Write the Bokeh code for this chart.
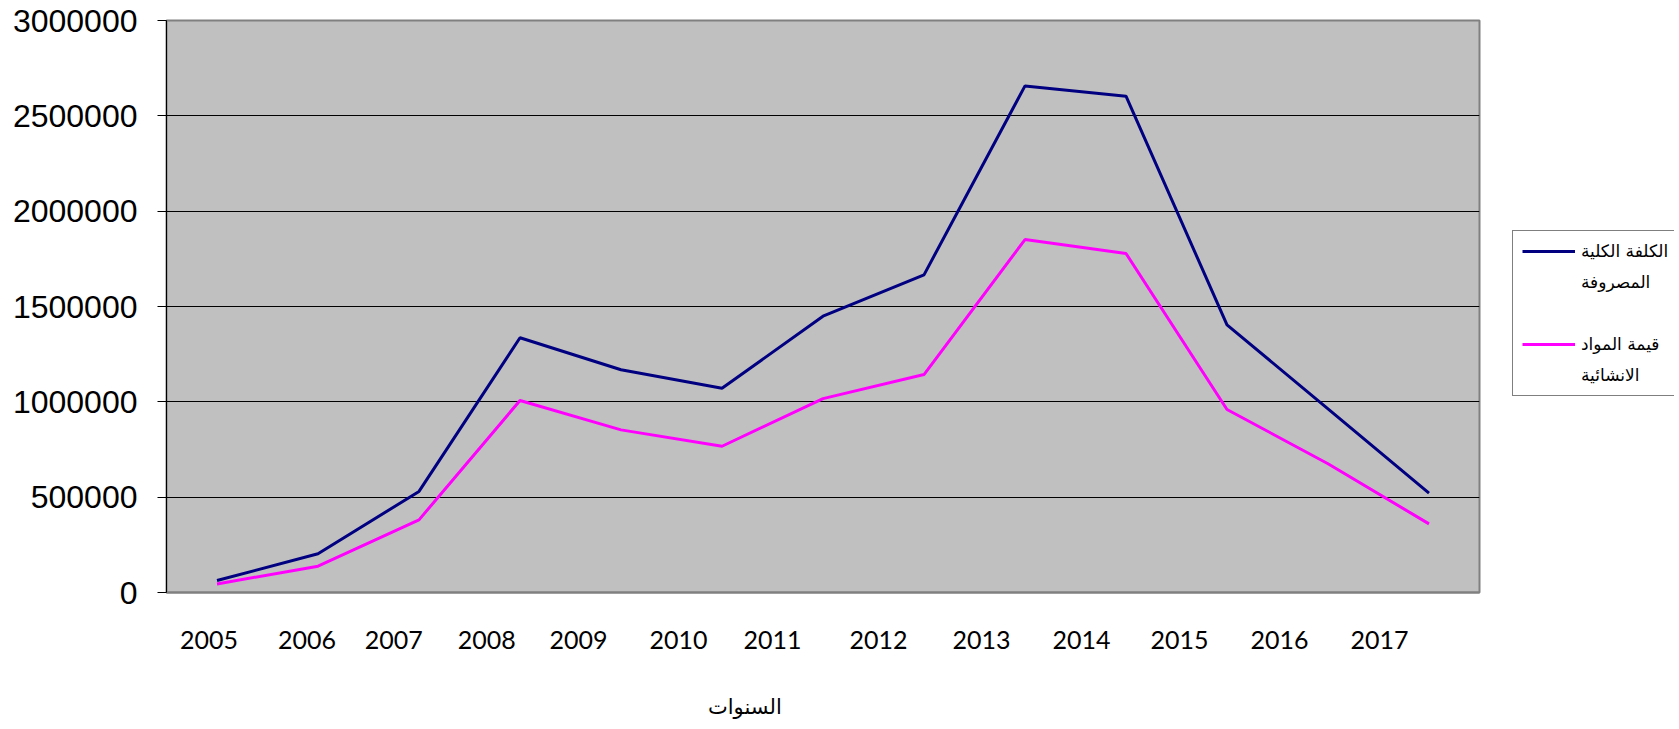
from bokeh.plotting import figure
from bokeh.models import (Range1d, FixedTicker, SingleIntervalTicker, BasicTickFormatter,
                          Legend, LegendItem, Div)
from bokeh.layouts import column, row
from bokeh.embed import file_html
from bokeh.resources import INLINE
import numpy as np

# ---- data ----
years = ["2005", "2006", "2007", "2008", "2009", "2010", "2011",
         "2012", "2013", "2014", "2015", "2016", "2017"]
total_cost = [63000, 203000, 530000, 1336000, 1168000, 1071000, 1449000,
              1666000, 2657000, 2603000, 1404000, 963000, 521000]
materials = [45000, 138000, 381000, 1007000, 853000, 767000, 1017000,
             1143000, 1851000, 1778000, 960000, 675000, 360000]
series_names = [["الكلفة الكلية", "المصروفة"], ["قيمة المواد", "الانشائية"]]
series_colors = ["#000080", "#FF00FF"]
x_title = "السنوات"

# ---- layout of year labels (as drawn in the original, offset from the points) ----
year_label_pos = [-0.08, 0.89, 1.75, 2.67, 3.58, 4.57, 5.50,
                  6.55, 7.57, 8.56, 9.53, 10.52, 11.51]

idx = np.arange(len(years))

BT, FH, BB = 20, 572, 90   # shared vertical borders / frame height

p = figure(frame_width=1313, frame_height=FH, output_backend="svg", toolbar_location=None,
           x_range=Range1d(-0.5, 12.5), y_range=Range1d(0, 3000000),
           min_border_left=166, min_border_top=BT, min_border_bottom=BB,
           min_border_right=5)
p.background_fill_color = "#C0C0C0"
p.border_fill_color = "white"
p.outline_line_color = "#808080"
p.outline_line_width = 2

p.line(idx, total_cost, line_color=series_colors[0], line_width=3)
p.line(idx, materials, line_color=series_colors[1], line_width=3)

# y axis
p.yaxis.ticker = SingleIntervalTicker(interval=500000)
p.yaxis.formatter = BasicTickFormatter(use_scientific=False)
p.yaxis.major_label_text_font = "Liberation Sans"
p.yaxis.major_label_text_font_size = "32px"
p.yaxis.major_label_text_color = "black"
p.yaxis.major_label_standoff = 20
p.yaxis.major_tick_out = 9
p.yaxis.major_tick_in = 0
p.yaxis.minor_tick_line_color = None
p.yaxis.axis_line_color = "black"
p.yaxis.major_tick_line_color = "black"

# x axis
p.xaxis.ticker = FixedTicker(ticks=year_label_pos)
p.xaxis.major_label_overrides = {pos: y for pos, y in zip(year_label_pos, years)}
p.xaxis.major_label_text_font = "Lato"
p.xaxis.major_label_text_font_size = "25px"
p.xaxis.major_label_text_color = "black"
p.xaxis.major_label_standoff = 32
p.xaxis.major_tick_line_color = None
p.xaxis.minor_tick_line_color = None
p.xaxis.axis_line_color = "#808080"
p.xaxis.axis_line_width = 2

p.xgrid.grid_line_color = None
p.ygrid.grid_line_color = "black"
p.ygrid.grid_line_width = 1

# ---- legend area: a small figure beside the chart (same vertical borders) ----
lf = figure(frame_width=190, frame_height=FH, output_backend="svg", toolbar_location=None,
            min_border_left=0, min_border_right=2, min_border_top=BT, min_border_bottom=BB,
            x_axis_type=None, y_axis_type=None,
            x_range=Range1d(100, 101), y_range=Range1d(0, 1))   # series kept out of view
lf.outline_line_color = None
lf.background_fill_color = "white"
lf.border_fill_color = "white"
lf.grid.grid_line_color = None

items = []
for k, vals in enumerate([total_cost, materials]):
    shown = lf.line(idx, vals, line_color=series_colors[k], line_width=3)
    hidden = lf.line(idx, vals, line_color=series_colors[k], line_width=3, line_alpha=0)
    if k > 0:
        items.append(LegendItem(label=" ", renderers=[hidden]))
    items.append(LegendItem(label=series_names[k][0], renderers=[shown]))
    items.append(LegendItem(label=series_names[k][1], renderers=[hidden]))

lg = Legend(items=items, location=(28, 196))
lg.label_text_font = "DejaVu Sans"
lg.label_text_font_size = "17px"
lg.label_text_color = "black"
lg.glyph_width = 53
lg.glyph_height = 22
lg.label_height = 22
lg.label_standoff = 6
lg.padding = 9
lg.margin = 0
lg.spacing = 9
lg.border_line_color = "black"
lg.border_line_width = 1
lg.background_fill_color = "white"
lg.background_fill_alpha = 1
lf.add_layout(lg)

title_div = Div(text=x_title, width=1676, height=40, margin=0,
                styles={"padding-left": "708px", "padding-top": "13px",
                        "font-family": "DejaVu Sans", "font-size": "21px",
                        "color": "black", "line-height": "25px"})

layout = column(row(p, lf, spacing=0), title_div, spacing=0)
open("out.html", "w").write(file_html(layout, INLINE))
